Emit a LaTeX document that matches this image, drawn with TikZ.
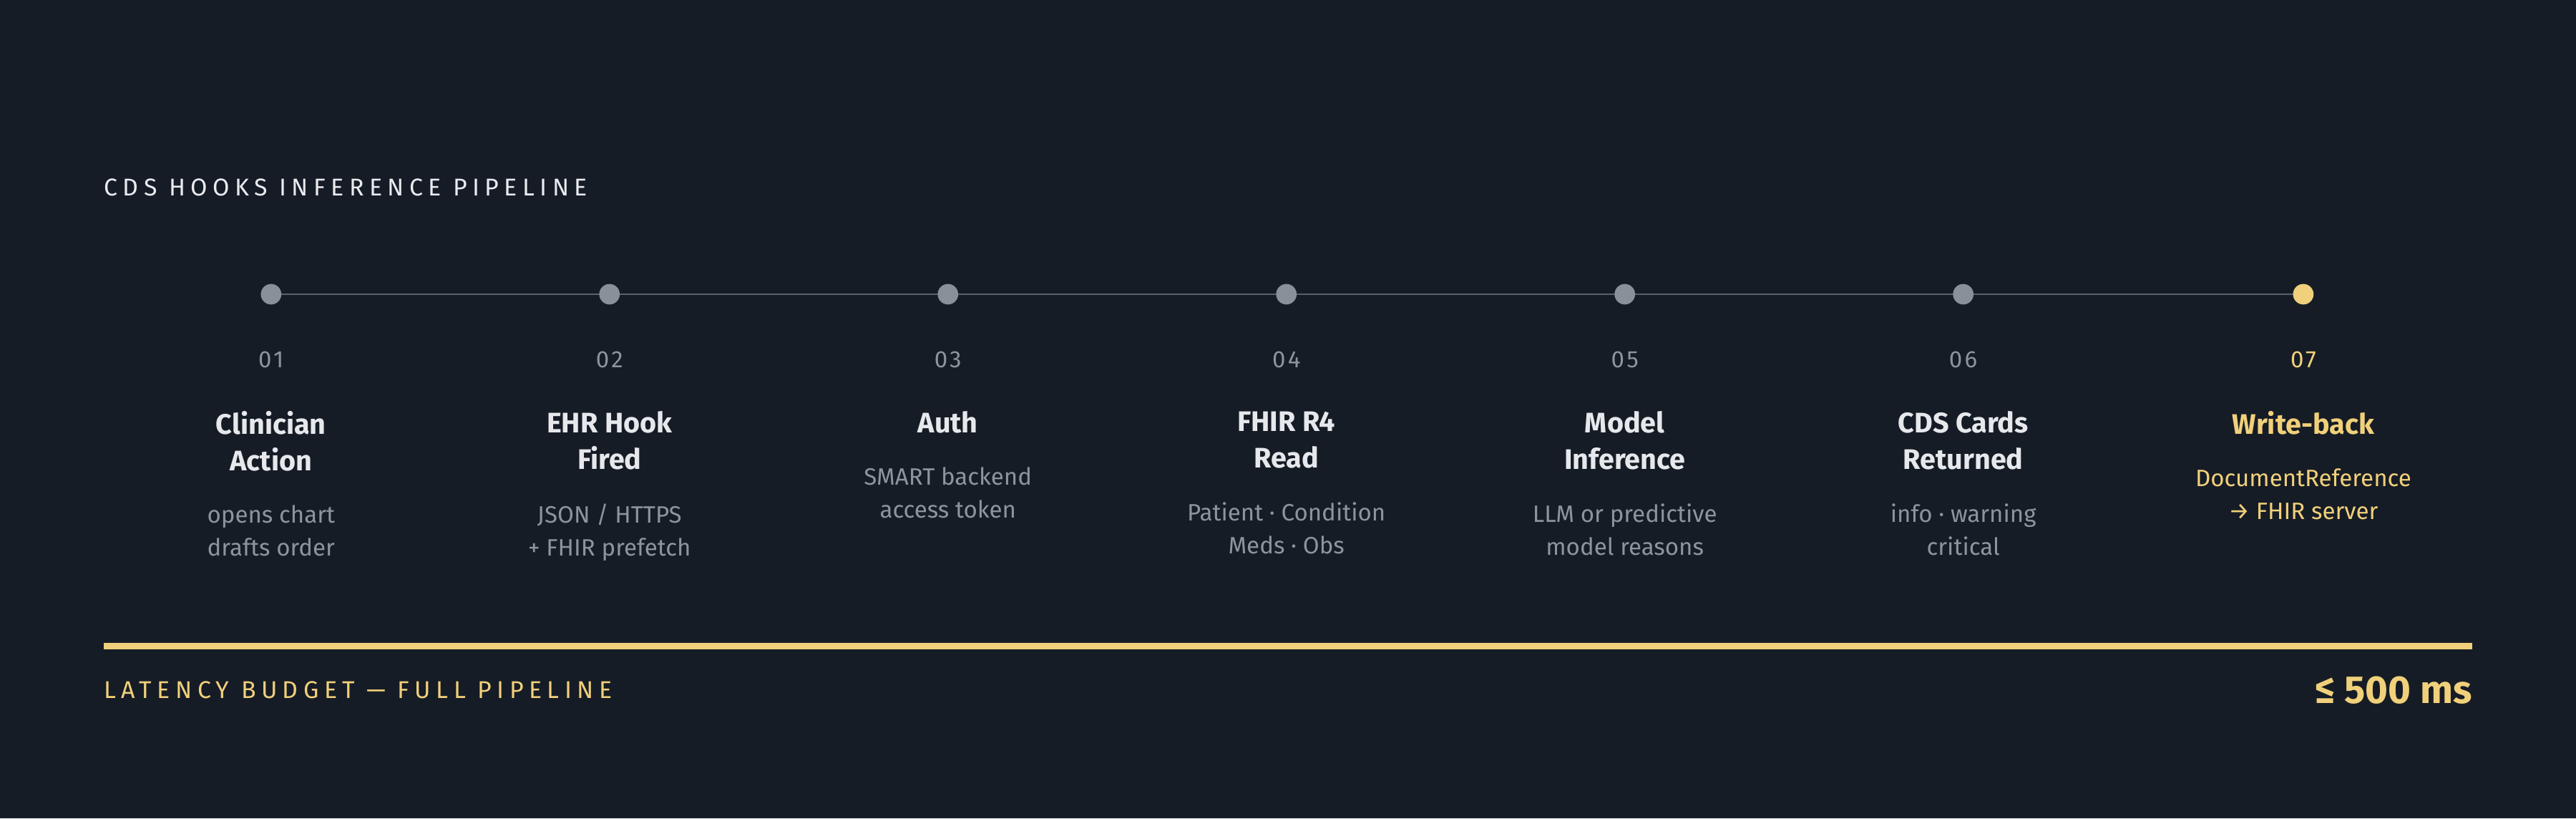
\documentclass[tikz,border=0pt]{standalone}
\usepackage{fontspec}
\setmainfont{Fira Sans}
\newfontfamily\spacedfont[LetterSpace=22]{Fira Sans}
\newfontfamily\numfont[LetterSpace=10]{Fira Sans}
\usetikzlibrary{positioning}
\definecolor{bgdark}{HTML}{161C26}
\definecolor{dotgrey}{HTML}{8A9099}
\definecolor{linegrey}{HTML}{5A616C}
\definecolor{textlight}{HTML}{E6E8EC}
\definecolor{textgrey}{HTML}{8E949D}
\definecolor{accent}{HTML}{F0D07A}
\begin{document}
\begin{tikzpicture}[x=0.02cm, y=-0.02cm,
    dot/.style = {circle, inner sep=0pt, minimum size=12.5*0.02cm},
    stepnum/.style = {font=\fontsize{8.2}{9}\selectfont\numfont},
    steptitle/.style = {font=\fontsize{9.8}{12.6}\selectfont\bfseries, align=center, anchor=north, inner sep=0pt},
    stepdesc/.style = {font=\fontsize{8.2}{11.4}\selectfont, align=center, inner sep=0pt, text=textgrey}]

    \fill[bgdark] (0,0) rectangle (1568,498);

    \node[anchor=west, inner sep=0pt, text=textlight!85, font=\fontsize{8.4}{9}\selectfont\spacedfont] (title) at (63,114) {CDS HOOKS INFERENCE PIPELINE};

    \coordinate (start) at (165,179);
    \coordinate (end) at (1402,179);
    \draw[linegrey, line width=0.6pt] (start) -- (end);

    \foreach \x/\n/\t/\d/\c in {
        165/01/{Clinician\\Action}/{opens chart\\drafts order}/textlight,
        371/02/{EHR Hook\\Fired}/{JSON / HTTPS\\+ FHIR prefetch}/textlight,
        577/03/{Auth}/{SMART backend\\access token}/textlight,
        783/04/{FHIR R4\\Read}/{Patient · Condition\\Meds · Obs}/textlight,
        989/05/{Model\\Inference}/{LLM or predictive\\model reasons}/textlight,
        1195/06/{CDS Cards\\Returned}/{info · warning\\critical}/textlight} {
        \node[dot, fill=dotgrey] (dot\n) at (\x,179) {};
        \node[stepnum, text=textgrey] (num\n) at (\x,219) {\n};
        \node[steptitle, text=\c] (head\n) at (\x,250) {\t};
        \node[stepdesc, anchor=north] (desc\n) [below=20*0.02cm of head\n] {\d};
    }

    % last step highlighted
    \node[dot, fill=accent] (dot07) at (1402,179) {};
    \node[stepnum, text=accent] (num07) at (1402,219) {07};
    \node[steptitle, text=accent] (head07) at (1402,250) {Write-back};
    \node[stepdesc, anchor=north, text=accent] (desc07) [below=20*0.02cm of head07] {DocumentReference\\→ FHIR server};

    % latency budget
    \coordinate (barl) at (63,393);
    \coordinate (barr) at (1505,393);
    \draw[accent, line width=2.3pt] (barl) -- (barr);
    \node[anchor=west, inner sep=0pt, text=accent, font=\fontsize{8.4}{9}\selectfont\spacedfont] (budget) at (63,420) {LATENCY BUDGET — FULL PIPELINE};
    \node[anchor=east, inner sep=0pt, text=accent, font=\fontsize{13.5}{16}\selectfont\bfseries] (total) at (1505,420) {≤ 500 ms};
\end{tikzpicture}
\end{document}
